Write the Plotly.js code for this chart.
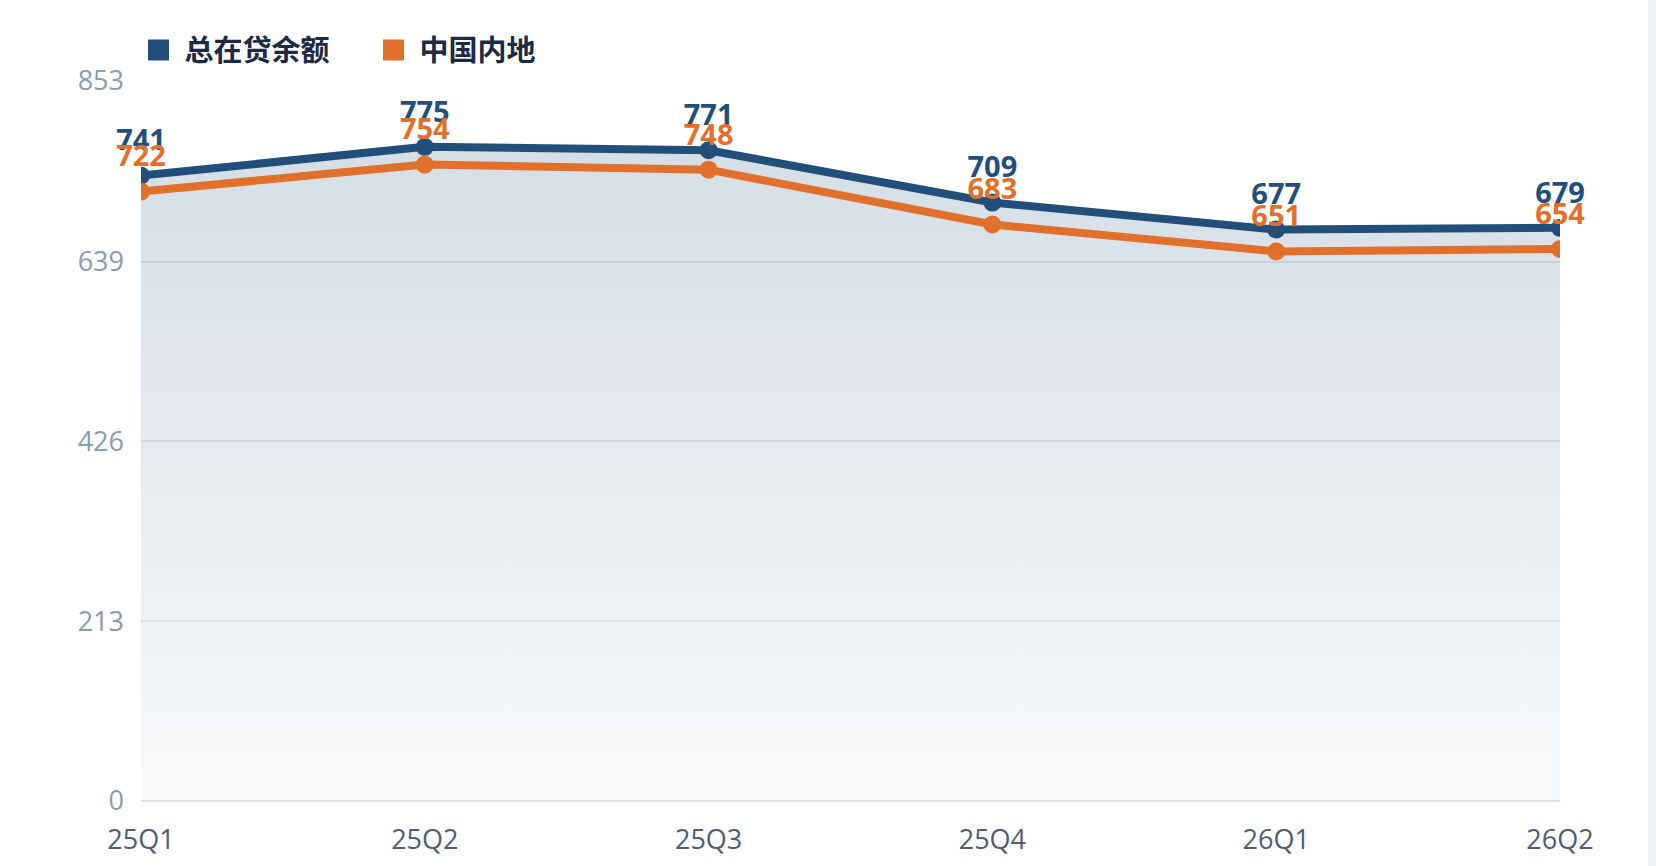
<!DOCTYPE html>
<html>
<head>
<meta charset="utf-8">
<script src="https://cdn.plot.ly/plotly-3.0.1.min.js"></script>
<style>
  html, body { margin: 0; padding: 0; background: #ffffff; }
  #chart { width: 1656px; height: 866px; }
</style>
</head>
<body>
<div id="chart"></div>
<script>
// ── data ─────────────────────────────────────────────────────────
const quarters   = ['25Q1', '25Q2', '25Q3', '25Q4', '26Q1', '26Q2'];
const totalLoans = [741, 775, 771, 709, 677, 679];   // 总在贷余额
const mainland   = [722, 754, 748, 683, 651, 654];   // 中国内地
const yTicks     = [0, 213, 426, 639, 853];
const seriesNames = ['总在贷余额', '中国内地'];

const BLUE = '#224f7a';
const ORANGE = '#e0702b';
const NUM_FONT = '"Open Sans", "Noto Sans", sans-serif';
const CJK_FONT = '"Noto Sans CJK SC", "Noto Sans", sans-serif';

// main lines (the blue one carries the gradient area)
const lineTotal = {
    x: quarters, y: totalLoans, type: 'scatter', mode: 'lines+markers',
    line: { color: BLUE, width: 8 },
    marker: { color: BLUE, size: 18 },
    fill: 'tozeroy',
    fillgradient: {
        type: 'vertical',
        colorscale: [[0, 'rgba(34,79,122,0.03)'], [1, 'rgba(34,79,122,0.19)']]
    },
    showlegend: false, hoverinfo: 'skip'
};
const lineMainland = {
    x: quarters, y: mainland, type: 'scatter', mode: 'lines+markers',
    line: { color: ORANGE, width: 8 },
    marker: { color: ORANGE, size: 18 },
    showlegend: false, hoverinfo: 'skip'
};

// value labels — transparent big markers push the text up off the dots
function labelTrace(ys, color) {
    return {
        x: quarters, y: ys, type: 'scatter', mode: 'markers+text',
        text: ys.map(String), textposition: 'top center',
        textfont: { family: NUM_FONT, size: 29, color, weight: 700 },
        marker: { size: 27, color: 'rgba(0,0,0,0)' },
        showlegend: false, hoverinfo: 'skip', cliponaxis: false
    };
}

// legend swatches only
function legendTrace(name, color) {
    return {
        x: [null], y: [null], type: 'scatter', mode: 'markers', name,
        marker: { symbol: 'square', size: 16, color, line: { color, width: 5 } }
    };
}

const traces = [
    lineTotal, lineMainland,
    labelTrace(totalLoans, BLUE), labelTrace(mainland, ORANGE),
    legendTrace(seriesNames[0], BLUE), legendTrace(seriesNames[1], ORANGE)
];

const layout = {
    width: 1656, height: 866,
    margin: { l: 141, r: 96, t: 81, b: 65 },
    paper_bgcolor: '#ffffff', plot_bgcolor: '#ffffff',
    showlegend: true,
    legend: {
        orientation: 'h', x: -0.006, xanchor: 'left', y: 1.043, yanchor: 'middle',
        font: { family: CJK_FONT, size: 29, color: '#1c2a44', weight: 700 },
        itemwidth: 42, entrywidth: 178, entrywidthmode: 'pixels',
        bgcolor: 'rgba(0,0,0,0)'
    },
    xaxis: {
        type: 'category', range: [0, 5],
        showgrid: false, zeroline: false, showline: false, ticks: '',
        tickfont: { family: NUM_FONT, size: 27, color: '#4f5d75' },
        ticklabelstandoff: 20, fixedrange: true
    },
    yaxis: {
        range: [0, 853], tickvals: yTicks, ticktext: yTicks.map(String),
        gridcolor: '#e4e9f0', gridwidth: 2,
        zeroline: true, zerolinecolor: '#e1e6ee', zerolinewidth: 2,
        showline: false, ticks: '',
        tickfont: { family: NUM_FONT, size: 27, color: '#8a9bb2' },
        ticklabelstandoff: 16, fixedrange: true
    },
    shapes: [{
        // thin grey strip at the right edge of the card
        type: 'rect', xref: 'paper', yref: 'paper',
        x0: 1.062, x1: 1.07, y0: -0.2, y1: 1.2,
        fillcolor: '#eef1f5', line: { width: 0 }, layer: 'below'
    }]
};

Plotly.newPlot('chart', traces, layout, { displayModeBar: false, staticPlot: true });
</script>
</body>
</html>
